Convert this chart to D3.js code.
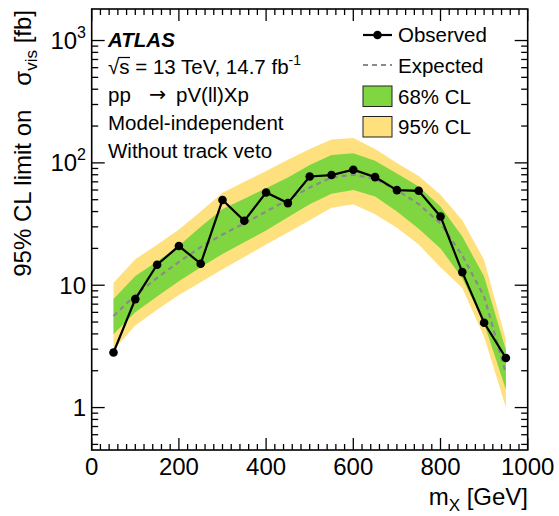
<!DOCTYPE html>
<html>
<head>
<meta charset="utf-8">
<script src="https://cdn.jsdelivr.net/npm/d3@7/dist/d3.min.js"></script>
<style>
  html, body { margin: 0; padding: 0; background: #fff; }
  svg { display: block; }
  text { font-family: "Liberation Sans", Arial, Helvetica, sans-serif; fill: #000; }
</style>
</head>
<body>
<svg id="chart" width="559" height="516"></svg>
<script>
// ---------------- data ----------------
const masses      = [50, 100, 150, 200, 250, 300, 350, 400, 450, 500, 550, 600, 650, 700, 750, 800, 850, 900, 950];
const observed    = [2.82, 7.7, 14.7, 20.9, 15.0, 49.7, 33.6, 57.3, 46.9, 77.4, 79.5, 87.9, 76.5, 59.9, 59.1, 36.5, 12.8, 4.93, 2.54];
const expected    = [5.6, 8.3, 11.5, 15.5, 20.5, 26, 32, 40, 50, 63, 76, 80, 74, 60, 46, 32, 17.5, 8.1, 1.9];
const green_up    = [7.7, 11.9, 15.6, 21, 30, 42, 51, 62, 76, 96, 116, 120, 104, 82, 64, 44, 25, 11.8, 2.96];
const green_down  = [3.98, 6.0, 8.1, 10.8, 14, 18, 22.5, 28, 36, 46, 56, 60, 53, 40, 29, 20, 11.4, 4.9, 1.4];
const yellow_up   = [10.5, 16.3, 21.4, 28.5, 40, 57, 70, 86, 106, 130, 155, 160, 130, 100, 78, 55, 34, 16.1, 3.58];
const yellow_down = [2.96, 4.68, 6.3, 8.3, 10.6, 13.5, 17, 21.5, 27, 34, 43, 46, 38, 29.5, 21.5, 14, 9.5, 3.8, 1.0];

const xMajorTicks = [0, 200, 400, 600, 800, 1000];
const xTickLabels = ["0", "200", "400", "600", "800", "1000"];
const yMajorTicks = [1, 10, 100, 1000];
const yTickLabels = [["1", ""], ["10", ""], ["10", "2"], ["10", "3"]];

const legendLabels = ["Observed", "Expected", "68% CL", "95% CL"];
const infoLines = ["Model-independent", "Without track veto"];

// ---------------- layout ----------------
const svg = d3.select("#chart");
const L = 91.7, R = 527.7, T = 9, B = 450;
const x = d3.scaleLinear().domain([0, 1000]).range([L, R]);
const y = d3.scaleLog().domain([0.45, 1810]).range([B, T]);

const GREEN = "#80d640", YELLOW = "#fee17e";

const pts = masses.map((m, i) => ({m, obs: observed[i], exp: expected[i],
  gu: green_up[i], gd: green_down[i], yu: yellow_up[i], yd: yellow_down[i]}));

svg.append("clipPath").attr("id", "clip")
  .append("rect").attr("x", L).attr("y", T).attr("width", R - L).attr("height", B - T);
const plot = svg.append("g").attr("clip-path", "url(#clip)");

const area = (lo, hi) => d3.area().x(d => x(d.m)).y0(d => y(d[lo])).y1(d => y(d[hi]));
plot.append("path").datum(pts).attr("d", area("yd", "yu")).attr("fill", YELLOW);
plot.append("path").datum(pts).attr("d", area("gd", "gu")).attr("fill", GREEN);

plot.append("path").datum(pts)
  .attr("d", d3.line().x(d => x(d.m)).y(d => y(d.exp)))
  .attr("fill", "none").attr("stroke", "#8a8a8a").attr("stroke-width", 2.2)
  .attr("stroke-dasharray", "5,4");

plot.append("path").datum(pts)
  .attr("d", d3.line().x(d => x(d.m)).y(d => y(d.obs)))
  .attr("fill", "none").attr("stroke", "#000").attr("stroke-width", 2.2);

plot.selectAll("circle.obs").data(pts).join("circle").attr("class", "obs")
  .attr("cx", d => x(d.m)).attr("cy", d => y(d.obs)).attr("r", 4.3).attr("fill", "#000");

// ---------------- axes / ticks ----------------
const axes = svg.append("g").attr("stroke", "#000").attr("stroke-width", 1.3);
d3.range(0, 1001, 20).forEach(v => {
  const len = (v % 200 === 0) ? 12 : 6;
  axes.append("line").attr("x1", x(v)).attr("x2", x(v)).attr("y1", B).attr("y2", B - len);
  axes.append("line").attr("x1", x(v)).attr("x2", x(v)).attr("y1", T).attr("y2", T + len);
});
const yTicks = [];
[0.1, 1, 10, 100, 1000].forEach(dec => { for (let k = 1; k <= 9; k++) yTicks.push(dec * k); });
yTicks.filter(v => v >= 0.45 && v <= 1810).forEach(v => {
  const major = Math.abs(Math.log10(v) - Math.round(Math.log10(v))) < 1e-9;
  const len = major ? 13 : 6.5;
  axes.append("line").attr("x1", L).attr("x2", L + len).attr("y1", y(v)).attr("y2", y(v));
  axes.append("line").attr("x1", R).attr("x2", R - len).attr("y1", y(v)).attr("y2", y(v));
});
svg.append("rect").attr("x", L).attr("y", T).attr("width", R - L).attr("height", B - T)
  .attr("fill", "none").attr("stroke", "#000").attr("stroke-width", 1.6);

// tick labels
xMajorTicks.forEach((v, i) => {
  svg.append("text").attr("x", x(v)).attr("y", 475).attr("text-anchor", "middle")
    .attr("font-size", 24).text(xTickLabels[i]);
});
yMajorTicks.forEach((v, i) => {
  const t = svg.append("text").attr("x", 86).attr("y", y(v) + 8.5).attr("text-anchor", "end")
    .attr("font-size", 24);
  t.append("tspan").text(yTickLabels[i][0]);
  if (yTickLabels[i][1]) t.append("tspan").attr("font-size", 16).attr("dy", -11).text(yTickLabels[i][1]);
});

// axis titles
const xt = svg.append("text").attr("x", 528).attr("y", 505).attr("text-anchor", "end").attr("font-size", 24);
xt.append("tspan").text("m");
xt.append("tspan").attr("font-size", 17).attr("dy", 6).text("X");
xt.append("tspan").attr("dy", -6).text(" [GeV]");

const yt = svg.append("text").attr("transform", "translate(31,10) rotate(-90)")
  .attr("text-anchor", "end").attr("font-size", 24);
yt.append("tspan").text("95% CL limit on");
yt.append("tspan").attr("dx", 24).text("σ");
yt.append("tspan").attr("font-size", 17).attr("dy", 6).text("vis");
yt.append("tspan").attr("dy", -6).text(" [fb]");

// ATLAS label block
svg.append("text").attr("x", 108).attr("y", 47).attr("font-size", 20.5)
  .attr("font-weight", "bold").attr("font-style", "italic").text("ATLAS");

const l1 = svg.append("text").attr("x", 108).attr("y", 74).attr("font-size", 20.5);
l1.append("tspan").text("√");
l1.append("tspan").text("s");
l1.append("tspan").text(" = 13 TeV, 14.7 fb");
l1.append("tspan").attr("font-size", 14).attr("dy", -9).text("-1");
{
  const start = l1.node().getSubStringLength(0, 1);
  const w = l1.node().getSubStringLength(1, 1);
  svg.append("line").attr("x1", 108 + start - 1).attr("x2", 108 + start + w + 0.5)
    .attr("y1", 57.5).attr("y2", 57.5).attr("stroke", "#000").attr("stroke-width", 1.2);
}

svg.append("text").attr("x", 108).attr("y", 102).attr("font-size", 20.5).text("pp");
svg.append("text").attr("x", 149).attr("y", 101).attr("font-size", 20.5)
  .style("font-family", "'DejaVu Sans', sans-serif").text("→");
svg.append("text").attr("x", 176).attr("y", 102).attr("font-size", 20.5).text("pV(ll)Xp");
infoLines.forEach((s, i) => {
  svg.append("text").attr("x", 108).attr("y", 130 + i * 28).attr("font-size", 20.5).text(s);
});

// legend
const lg = svg.append("g");
const lx0 = 363, lx1 = 392, tx = 398;
lg.append("line").attr("x1", lx0).attr("x2", lx1).attr("y1", 35).attr("y2", 35)
  .attr("stroke", "#000").attr("stroke-width", 2.2);
lg.append("circle").attr("cx", (lx0 + lx1) / 2).attr("cy", 35).attr("r", 4.3).attr("fill", "#000");
lg.append("line").attr("x1", lx0).attr("x2", lx1).attr("y1", 65).attr("y2", 65)
  .attr("stroke", "#8a8a8a").attr("stroke-width", 2.2).attr("stroke-dasharray", "5,4");
lg.append("rect").attr("x", lx0).attr("y", 86).attr("width", lx1 - lx0).attr("height", 20.5)
  .attr("fill", GREEN).attr("stroke", "#222").attr("stroke-width", 1);
lg.append("rect").attr("x", lx0).attr("y", 116.5).attr("width", lx1 - lx0).attr("height", 20.5)
  .attr("fill", YELLOW).attr("stroke", "#222").attr("stroke-width", 1);
[42, 73, 104, 134].forEach((yy, i) => {
  lg.append("text").attr("x", tx).attr("y", yy).attr("font-size", 20.5).text(legendLabels[i]);
});
</script>
</body>
</html>
